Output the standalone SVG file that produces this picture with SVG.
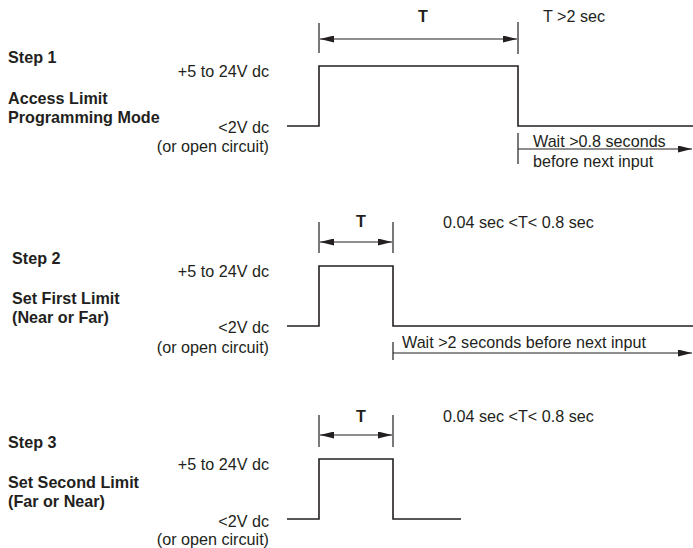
<svg xmlns="http://www.w3.org/2000/svg" width="693" height="548" viewBox="0 0 693 548">
<style>
text{font-family:"Liberation Sans",Arial,sans-serif;font-size:17px;fill:#231f20}
.b{font-weight:bold}
.r{text-anchor:end}
.m{text-anchor:middle}
.w{fill:none;stroke:#231f20;stroke-width:1.6}
.t{fill:none;stroke:#231f20;stroke-width:1.2}
.a{fill:none;stroke:#231f20;stroke-width:1.2;marker-end:url(#ah)}
.d{fill:none;stroke:#231f20;stroke-width:1.2;marker-start:url(#ah);marker-end:url(#ah)}
</style>
<defs>
<marker id="ah" viewBox="0 0 14 7" refX="14" refY="3.5" markerWidth="14" markerHeight="7" markerUnits="userSpaceOnUse" orient="auto-start-reverse">
<path d="M0,0 L14,3.5 L0,7 Z" fill="#231f20"/>
</marker>
</defs>
<rect width="693" height="548" fill="#fff"/>

<g id="step1">
<text class="b" transform="translate(8,63) scale(.95,1)">Step 1</text>
<text class="b" transform="translate(8,104) scale(.95,1)">Access Limit</text>
<text class="b" transform="translate(8,123) scale(.95,1)">Programming Mode</text>
<text class="r" transform="translate(269,77) scale(.95,1)">+5 to 24V dc</text>
<text class="r" transform="translate(269,133) scale(.95,1)">&lt;2V dc</text>
<text class="r" transform="translate(269,152) scale(.95,1)">(or open circuit)</text>
<text class="b m" transform="translate(423,22) scale(.95,1)">T</text>
<text transform="translate(543,22) scale(.95,1)">T &gt;2 sec</text>
<text transform="translate(533,147) scale(.95,1)">Wait &gt;0.8 seconds</text>
<text transform="translate(533,167) scale(.95,1)">before next input</text>
</g>

<g id="step2">
<text class="b" transform="translate(12,264) scale(.95,1)">Step 2</text>
<text class="b" transform="translate(12,304) scale(.95,1)">Set First Limit</text>
<text class="b" transform="translate(12,323) scale(.95,1)">(Near or Far)</text>
<text class="r" transform="translate(269,277) scale(.95,1)">+5 to 24V dc</text>
<text class="r" transform="translate(269,333) scale(.95,1)">&lt;2V dc</text>
<text class="r" transform="translate(269,353) scale(.95,1)">(or open circuit)</text>
<text class="b m" transform="translate(361,227) scale(.95,1)">T</text>
<text transform="translate(443,228) scale(.95,1)">0.04 sec &lt;T&lt; 0.8 sec</text>
<text transform="translate(402,348) scale(.95,1)">Wait &gt;2 seconds before next input</text>
</g>

<g id="step3">
<text class="b" transform="translate(8,448) scale(.95,1)">Step 3</text>
<text class="b" transform="translate(8,488) scale(.95,1)">Set Second Limit</text>
<text class="b" transform="translate(8,507) scale(.95,1)">(Far or Near)</text>
<text class="r" transform="translate(269,470) scale(.95,1)">+5 to 24V dc</text>
<text class="r" transform="translate(269,527) scale(.95,1)">&lt;2V dc</text>
<text class="r" transform="translate(269,545) scale(.95,1)">(or open circuit)</text>
<text class="b m" transform="translate(361,422) scale(.95,1)">T</text>
<text transform="translate(443,422) scale(.95,1)">0.04 sec &lt;T&lt; 0.8 sec</text>
</g>

<g id="connectors">
<path class="w" d="M287,126 H319 V66 H518 V126 H693"/>
<path class="t" d="M319,23 V53 M518,22 V54 M518,133 V164"/>
<path class="d" d="M320,39 H517"/>
<path class="a" d="M518,149 H692"/>

<path class="w" d="M287,326 H319 V266 H393 V326 H693"/>
<path class="t" d="M319,222 V253 M393,222 V253 M393,342 V360"/>
<path class="d" d="M320,242 H392"/>
<path class="a" d="M393,353 H692"/>

<path class="w" d="M287,519 H319 V459 H393 V519 H461"/>
<path class="t" d="M319,415 V447 M393,415 V447"/>
<path class="d" d="M320,435 H392"/>
</g>
</svg>
